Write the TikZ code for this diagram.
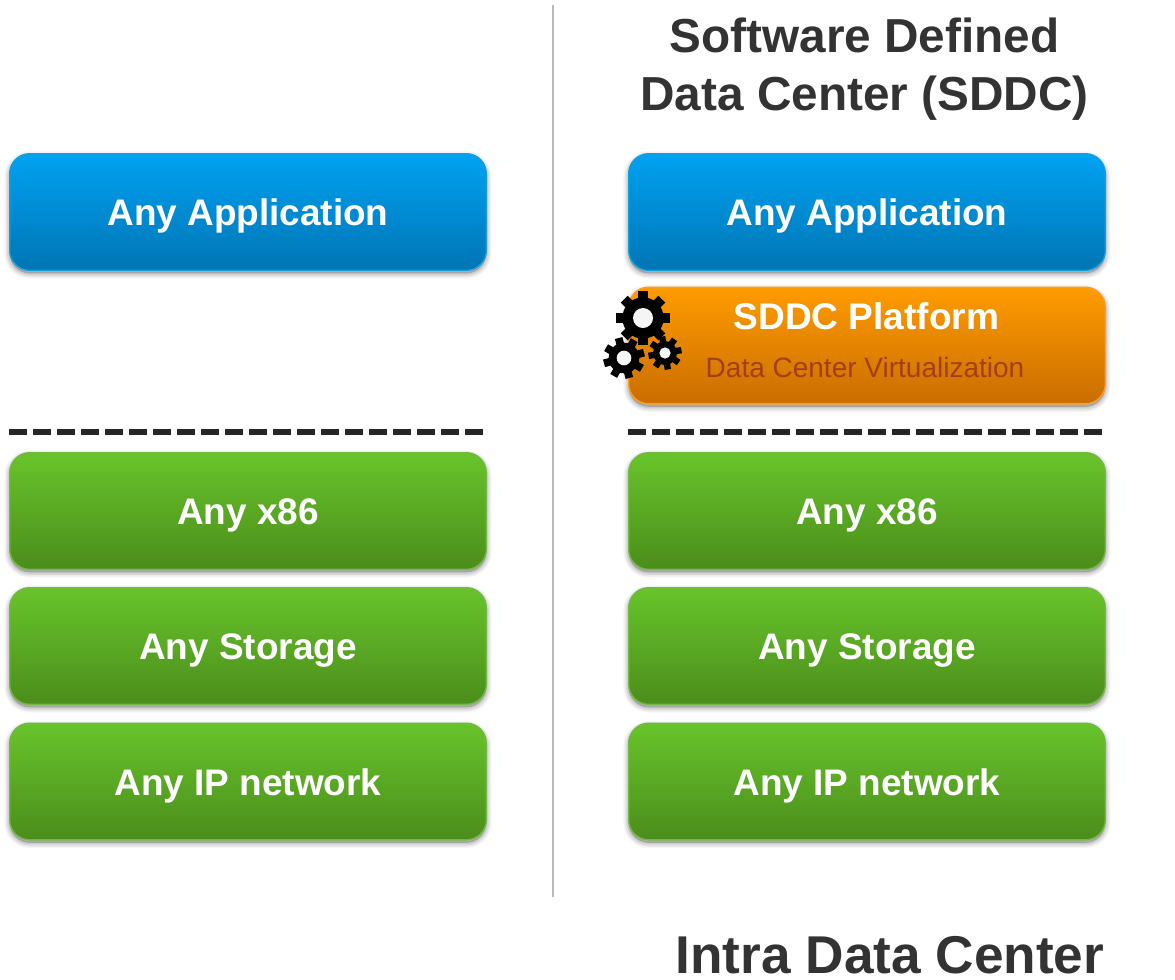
\documentclass[tikz,border=0pt]{standalone}
\usepackage{fontspec}
\setmainfont{Liberation Sans}
\usetikzlibrary{shadows}
\definecolor{txt}{HTML}{333333}
\tikzset{
  softshadow/.style={
    general shadow={shadow xshift=0pt,shadow yshift=-2.2pt,draw=black,fill=black,line width=8pt,opacity=.035},
    general shadow={shadow xshift=0pt,shadow yshift=-2.2pt,draw=black,fill=black,line width=6pt,opacity=.05},
    general shadow={shadow xshift=0pt,shadow yshift=-2.2pt,draw=black,fill=black,line width=4pt,opacity=.06},
    general shadow={shadow xshift=0pt,shadow yshift=-2.2pt,draw=black,fill=black,line width=2pt,opacity=.07}},
  layerbox/.style={rectangle,rounded corners=15pt,minimum width=357.5pt,minimum height=87.5pt,line width=1pt,softshadow,text=white,font=\fontsize{27.7pt}{30pt}\selectfont\bfseries,inner sep=0pt,text height=20.5pt,text depth=0pt},
  bluebox/.style={layerbox,draw=blueedge,top color=bluetop,bottom color=bluebot},
  greenbox/.style={layerbox,draw=greenedge,top color=greentop,bottom color=greenbot},
  orangebox/.style={layerbox,draw=orangeedge,top color=orangetop,bottom color=orangebot},
  titletext/.style={text=txt,font=\fontsize{35.8pt}{43pt}\selectfont\bfseries,align=center,inner sep=0pt},
  footer/.style={text=txt,font=\fontsize{39.9pt}{45pt}\selectfont\bfseries,inner sep=0pt,text depth=0pt,anchor=base},
  sep line/.style={draw=black!85,line width=4.5pt,dash pattern=on 13.5pt off 4.5pt},
  divider/.style={draw=black!27,line width=1.5pt},
  pics/gear/.style args={#1/#2/#3/#4/#5}{code={
    \fill[black] (0,0) circle (#2);
    \foreach \a in {0,45,...,315}{
      \fill[black,rotate=\a+#5] (-#3,0) rectangle (#3,#1);
    }
    \fill[gearhole] (0,0) circle (#4);
  }},
}
\definecolor{bluetop}{HTML}{00A2F2}\definecolor{bluebot}{HTML}{0075B4}\definecolor{blueedge}{HTML}{12A0DC}
\definecolor{greentop}{HTML}{68C42B}\definecolor{greenbot}{HTML}{4B8D1B}\definecolor{greenedge}{HTML}{74B844}
\definecolor{orangetop}{HTML}{FF9C00}\definecolor{orangebot}{HTML}{C96D00}\definecolor{orangeedge}{HTML}{FF9D20}
\definecolor{gearhole}{HTML}{F5F5F5}\definecolor{subtxt}{HTML}{A23F17}
\begin{document}
\begin{tikzpicture}[x=0.75pt,y=-0.75pt]
\useasboundingbox (0,0) rectangle (1175,979);
\draw[divider] (553,5) coordinate (d1) -- (553,897) coordinate (d2);
\node[titletext] (title) at (864.5,69) {Software Defined\\Data Center (SDDC)};
\node[bluebox] (appL) at (248,212) {Any Application};
\node[bluebox] (appR) at (867,212) {Any Application};
\node[orangebox] (plat) at (867,345.5) {};
\node[text=white,font=\fontsize{27.8pt}{30pt}\selectfont\bfseries,inner sep=0pt] (platT) at (866.5,316) {SDDC Platform};
\node[text=subtxt,font=\fontsize{21pt}{24pt}\selectfont,inner sep=0pt] (platS) at (865,367) {Data Center Virtualization};
\coordinate (sl1) at (9,432); \coordinate (sl2) at (487,432);
\coordinate (sr1) at (628,432); \coordinate (sr2) at (1106,432);
\draw[sep line] (sl1) -- (sl2);
\draw[sep line] (sr1) -- (sr2);
\node[greenbox] (x86L) at (248,511) {Any x86};
\node[greenbox] (x86R) at (867,511) {Any x86};
\node[greenbox] (stL) at (248,646) {Any Storage};
\node[greenbox] (stR) at (867,646) {Any Storage};
\node[greenbox] (ipL) at (248,781.5) {Any IP network};
\node[greenbox] (ipR) at (867,781.5) {Any IP network};
\pic at (643,318) {gear={20pt/15.5pt/3.6pt/7.5pt/0}};
\pic at (624,358) {gear={15.5pt/11.5pt/2.9pt/5.5pt/15}};
\pic at (665,353) {gear={12.5pt/9pt/2.4pt/4.2pt/10}};
\node[footer] (intra) at (890,973) {Intra Data Center};
\end{tikzpicture}
\end{document}
